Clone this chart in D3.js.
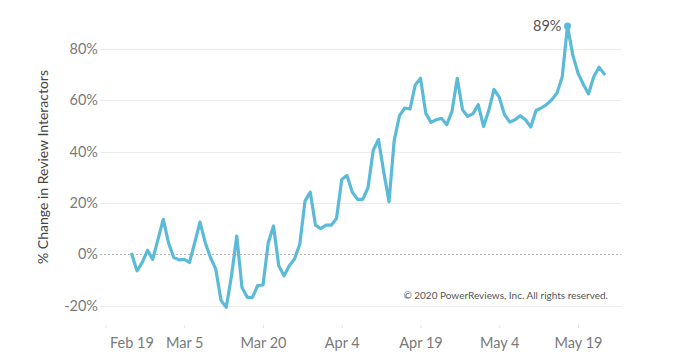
<!DOCTYPE html>
<html>
<head>
<meta charset="utf-8">
<script src="https://cdn.jsdelivr.net/npm/d3@7"></script>
<style>
  html, body { margin: 0; padding: 0; background: #fff; }
  svg { display: block; font-family: Lato, "Open Sans", sans-serif; }
</style>
</head>
<body>
<svg id="chart" width="679" height="357"></svg>
<script>
// ---- data ----
const startDate = "2020-02-24"; // first daily observation
const values = [
  0, -6.5, -3.2, 1.5, -2, 5.8, 13.6, 4.5, -1.3, -2.2,
  -2, -3.2, 4.5, 12.5, 4.5, -1.3, -5.8, -18, -20.7, -8.4,
  7.1, -13, -16.8, -16.8, -12.2, -12, 4.5, 11, -4.5, -8.4,
  -4.5, -1.9, 3.9, 20.7, 24.2, 11.3, 10, 11.3, 11.3, 13.9,
  29.1, 30.7, 24.2, 21.4, 21.4, 25.9, 40.5, 44.7, 32, 20.5,
  44.5, 54, 57, 56.6, 66, 68.6, 55, 51.4, 52.4, 53,
  50.5, 55.7, 68.6, 56.3, 53.7, 54.8, 58.3, 49.8, 56, 64.3,
  61.2, 54.4, 51.5, 52.4, 54, 52.4, 49.6, 56, 57, 58.3,
  60.2, 62.8, 69.2, 89, 77.7, 70.6, 66.3, 62.5, 69.2, 72.9,
  70.3
];
const xTickLabels = ["2020-02-19", "2020-03-05", "2020-03-20", "2020-04-04", "2020-04-19", "2020-05-04", "2020-05-19"];
const yTickValues = [-20, 0, 20, 40, 60, 80];
const yTitle = "% Change in Review Interactors";
const peakLabel = "89%";
const copyright = "\u00A9 2020 PowerReviews, Inc. All rights reserved.";

// ---- setup ----
const parse = d3.utcParse("%Y-%m-%d");
const start = parse(startDate);
const data = values.map((v, i) => ({ date: d3.utcDay.offset(start, i), value: v }));
const tickDates = xTickLabels.map(parse);

const svg = d3.select("#chart");
const plotLeft = 100, plotRight = 621;

const x = d3.scaleUtc()
  .domain([tickDates[0], tickDates[tickDates.length - 1]])
  .range([105.5, 578]);
const y = d3.scaleLinear().domain([-20, 80]).range([305.5, 49]);

// gridlines
svg.append("g").selectAll("line")
  .data(yTickValues.filter(v => v !== 0))
  .join("line")
  .attr("x1", plotLeft).attr("x2", plotRight)
  .attr("y1", d => Math.round(y(d)) + 0.5).attr("y2", d => Math.round(y(d)) + 0.5)
  .attr("stroke", "#ececec").attr("stroke-width", 1);

// zero line dashed
svg.append("line")
  .attr("x1", plotLeft).attr("x2", plotRight)
  .attr("y1", Math.round(y(0)) + 0.5).attr("y2", Math.round(y(0)) + 0.5)
  .attr("stroke", "#b8b8b8").attr("stroke-width", 1)
  .attr("stroke-dasharray", "2,2");

// y axis labels
const yAxis = d3.axisLeft(y).tickValues(yTickValues).tickFormat(d => d + "%").tickSize(0).tickPadding(0);
const gy = svg.append("g").attr("transform", "translate(98,0)").call(yAxis);
gy.select(".domain").remove();
gy.selectAll("text")
  .attr("fill", "#7a7a7a").attr("font-size", "14.5px").attr("font-family", "Lato, sans-serif");

// x axis
const xAxis = d3.axisBottom(x).tickValues(tickDates).tickFormat(d3.utcFormat("%b %-d")).tickSize(3).tickPadding(0);
const gx = svg.append("g").attr("transform", "translate(0,325)").call(xAxis);
gx.select(".domain").remove();
gx.selectAll(".tick line").attr("stroke", "#e2e2e2");
gx.selectAll("text")
  .attr("fill", "#7a7a7a").attr("font-size", "14.5px").attr("font-family", "Lato, sans-serif")
  .attr("y", 18).attr("dy", "0.35em");
gx.selectAll(".tick").filter((d, i) => i === 0).select("text")
  .attr("text-anchor", "start").attr("x", 4);

// y title
svg.append("text")
  .attr("transform", "translate(48,167) rotate(-90)")
  .attr("text-anchor", "middle")
  .attr("fill", "#444").attr("font-size", "14px").attr("font-family", "Lato, sans-serif")
  .text(yTitle);

// line
const line = d3.line().x(d => x(d.date)).y(d => y(d.value));
svg.append("path")
  .datum(data)
  .attr("d", line)
  .attr("fill", "none")
  .attr("stroke", "#5bbad8")
  .attr("stroke-width", 3.2)
  .attr("stroke-linejoin", "round")
  .attr("stroke-linecap", "round");

// peak marker + label
const peak = data.reduce((a, b) => (b.value > a.value ? b : a));
svg.append("circle")
  .attr("cx", x(peak.date)).attr("cy", y(peak.value)).attr("r", 3.5)
  .attr("fill", "#5bbad8");
svg.append("text")
  .attr("x", x(peak.date) - 6).attr("y", y(peak.value))
  .attr("dy", "0.35em").attr("text-anchor", "end")
  .attr("fill", "#555").attr("font-size", "14.5px").attr("font-family", "Lato, sans-serif")
  .text(peakLabel);

// copyright
svg.append("text")
  .attr("x", 608).attr("y", 295).attr("dy", "0.35em").attr("text-anchor", "end")
  .attr("fill", "#555").attr("font-size", "10px").attr("font-family", "Lato, sans-serif")
  .text(copyright);
</script>
</body>
</html>
